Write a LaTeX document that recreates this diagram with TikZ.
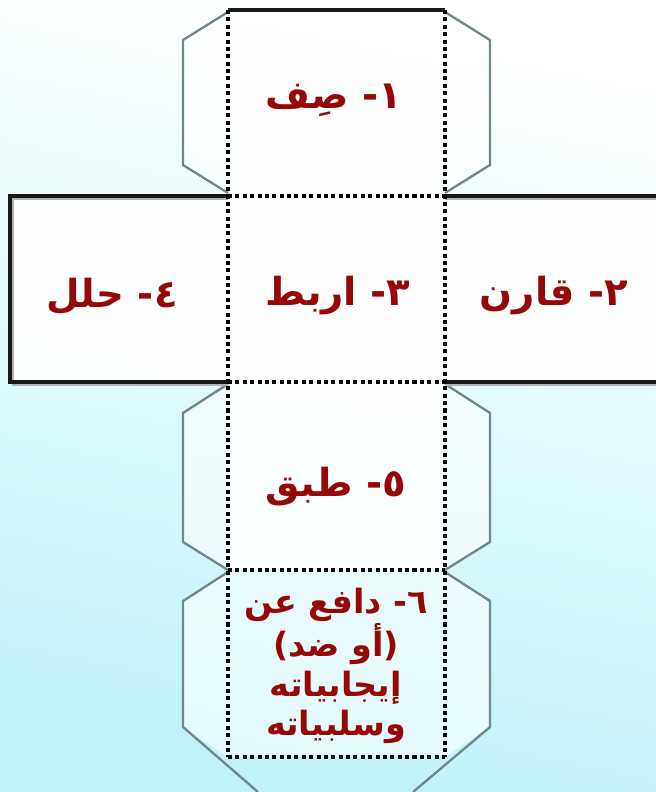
\documentclass[tikz,border=0pt]{standalone}
\usepackage{fontspec}
\newfontfamily\arabicfont[Script=Arabic]{DejaVu Sans}
\TeXXeTstate=1
\definecolor{labelred}{RGB}{150,8,8}
\definecolor{flapgray}{RGB}{110,136,136}
\definecolor{bgcyan}{RGB}{190,243,248}
\tikzset{
  flap/.style={draw=flapgray, line width=1.3pt, line join=round},
  cut/.style={draw=black!90, line width=2.2pt},
  cutshadow/.style={draw=gray!60, line width=1.6pt},
  fold/.style={draw=black, line width=2.1pt, dash pattern=on 2.3pt off 1.9pt},
  facetext/.style={text=labelred, font=\arabicfont\bfseries\fontsize{22}{26}\selectfont, align=center},
  smalltext/.style={facetext, font=\arabicfont\bfseries\fontsize{19}{22.5}\selectfont},
}
\begin{document}
\begin{tikzpicture}[x=0.02cm, y=-0.02cm]
  \useasboundingbox (0,0) rectangle (656,792);
  % background
  \shade[top color=white, bottom color=bgcyan, middle color=white!55!bgcyan, shading angle=-12] (0,0) rectangle (656,792);

  % paper of the net
  \fill[white, opacity=0.9] (228,10) rectangle (445,570);
  \fill[white, opacity=0.55] (228,570) rectangle (445,757);
  \fill[white, opacity=0.9] (10,196) rectangle (656,382);
  \fill[white, opacity=0.6] (228,12) -- (183,40) -- (183,165) -- (228,193) -- cycle
    (445,12) -- (490,40) -- (490,165) -- (445,193) -- cycle
    (228,384) -- (183,413) -- (183,542) -- (228,570) -- cycle
    (445,384) -- (490,413) -- (490,542) -- (445,570) -- cycle
    (228,572) -- (183,601) -- (183,727) -- (228,757) -- cycle
    (445,572) -- (490,601) -- (490,727) -- (445,757) -- cycle;

  % glue flaps
  \draw[flap] (228,12) -- (183,40) -- (183,165) -- (228,193);
  \draw[flap] (445,12) -- (490,40) -- (490,165) -- (445,193);
  \draw[flap] (228,384) -- (183,413) -- (183,542) -- (228,570);
  \draw[flap] (445,384) -- (490,413) -- (490,542) -- (445,570);
  \draw[flap] (228,572) -- (183,601) -- (183,727) -- (258,792);
  \draw[flap] (445,572) -- (490,601) -- (490,727) -- (413,792);

  % cut edges
  \draw[cutshadow] (12,199) -- (228,199) (12,385) -- (228,385)
    (445,199) -- (656,199) (445,385) -- (656,385) (13,199) -- (13,385);
  \draw[cut] (228,10) -- (445,10);
  \draw[cut] (228,196) -- (10,196) -- (10,382) -- (228,382);
  \draw[cut] (445,196) -- (656,196) (445,382) -- (656,382);

  % fold lines
  \draw[fold] (228,10) -- (228,757) (445,10) -- (445,757);
  \draw[fold] (228,196) -- (445,196) (228,382) -- (445,382)
    (228,570) -- (445,570) (228,757) -- (445,757);

  % face labels
  \node[facetext] (describe) at (334,100) {\beginR ١- صِف\endR};
  \node[facetext] (compare) at (554,296) {\beginR ٢- قارن\endR};
  \node[facetext] (relate) at (338,296) {\beginR ٣- اربط\endR};
  \node[facetext] (analyse) at (112,296) {\beginR ٤- حلل\endR};
  \node[facetext] (apply) at (336,487) {\beginR ٥- طبق\endR};
  \node[smalltext] (argue) at (336,666) {\beginR ٦- دافع عن\endR\\
    \beginR (أو ضد)\endR\\
    \beginR إيجابياته\endR\\
    \beginR وسلبياته\endR};
\end{tikzpicture}
\end{document}
